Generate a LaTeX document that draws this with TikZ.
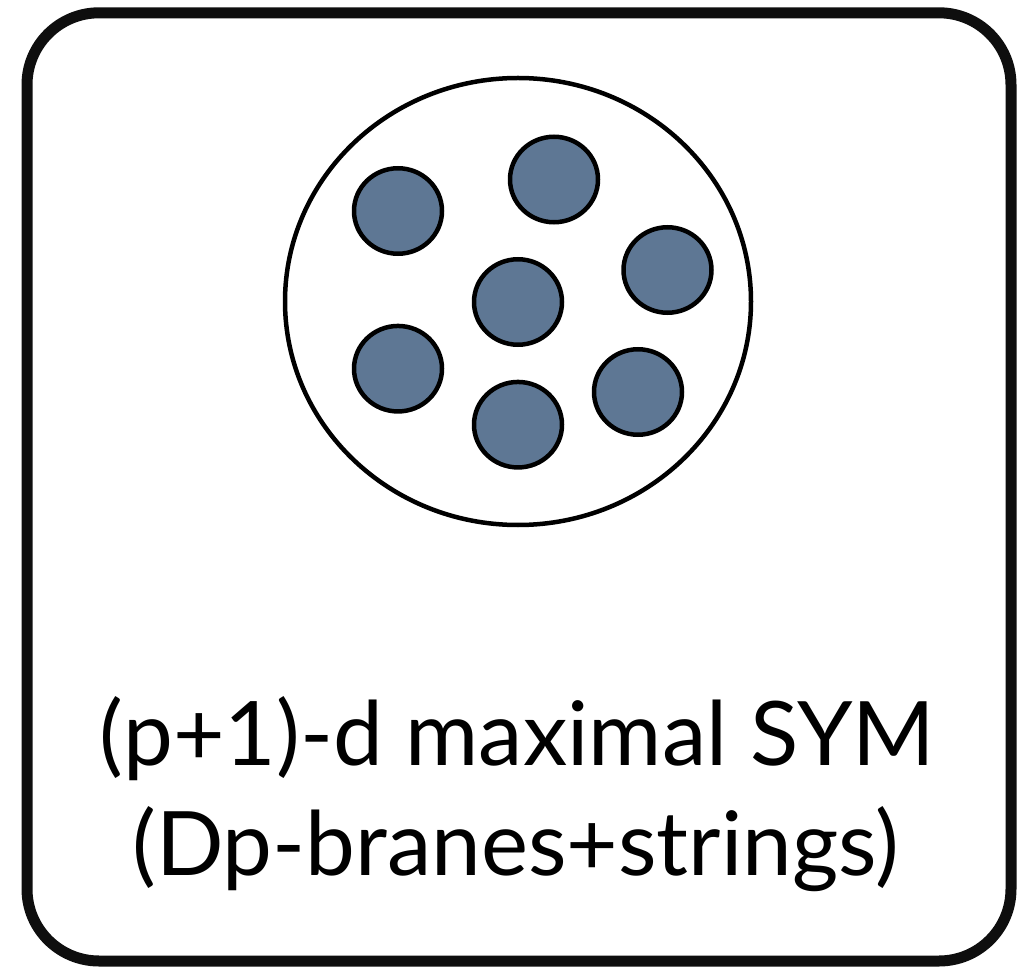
\documentclass[tikz,border=0pt]{standalone}
\usepackage{fontspec}
\setmainfont{Lato}
\usetikzlibrary{shapes.geometric}
\definecolor{branefill}{RGB}{94,119,148}
\definecolor{inkblack}{RGB}{14,14,14}
\tikzset{
  frame/.style={draw=inkblack, line width=11pt, rounded corners=72pt},
  bulk/.style={draw=black, line width=4.5pt, ellipse, minimum width=466pt, minimum height=447pt, inner sep=0pt},
  brane/.style={draw=black, fill=branefill, line width=4.5pt, ellipse, minimum width=88pt, minimum height=85.5pt, inner sep=0pt},
  caption/.style={anchor=base, inner sep=0pt, font=\fontsize{89}{110}\selectfont}
}
\begin{document}
\begin{tikzpicture}[x=1pt, y=-1pt]
  \useasboundingbox (0,0) rectangle (1034,968);
  % outer panel
  \draw[frame] (27,12.8) rectangle (1011,961);
  % spacetime region holding the stack of branes
  \node[bulk] (region) at (518,301.5) {};
  \node[brane] (b1) at (398,211) {};
  \node[brane] (b2) at (554,179.5) {};
  \node[brane] (b3) at (667.5,270) {};
  \node[brane] (b4) at (518,302) {};
  \node[brane] (b5) at (398,368.7) {};
  \node[brane] (b6) at (638,392) {};
  \node[brane] (b7) at (518,424.7) {};
  % caption
  \node[caption] (line1) at (517.5,765) {(p+1)-d maximal SYM};
  \node[caption] (line2) at (515.5,875) {(Dp-branes+strings)};
\end{tikzpicture}
\end{document}
